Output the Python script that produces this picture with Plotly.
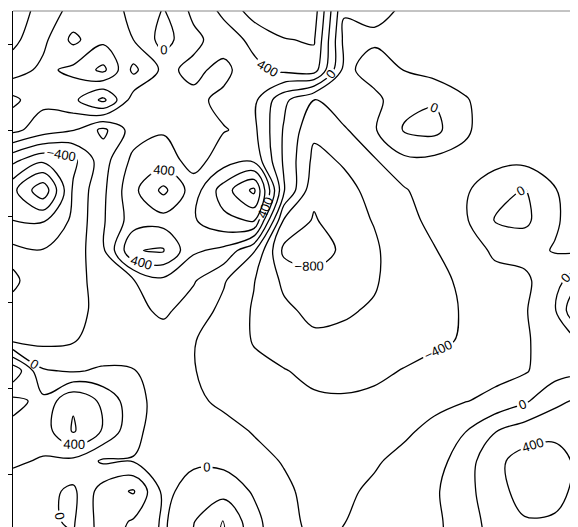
import plotly.graph_objects as go

# grid node positions (km); columns left->right, rows top->bottom
x_km = [0.00, 0.35, 0.70, 1.05, 1.40, 1.75, 2.10, 2.45, 2.80, 3.15,
        3.50, 3.85, 4.20, 4.55, 4.90, 5.25, 5.60, 5.95, 6.30, 6.65]
y_km = [6.40, 6.05, 5.70, 5.35, 5.00, 4.65, 4.30, 3.95, 3.60, 3.25,
        2.90, 2.55, 2.20, 1.85, 1.50, 1.15, 0.80, 0.45, 0.10]

# anomaly values, one list per row (top to bottom)
row_00 = [-150, 100, 250, 300, 150, -10, 250, 450, 700, 750, 700, -180, -150, -220, -300, -300, -300, -300, -300, -300]
row_01 = [-50, 150, 450, 250, 200, -80, 150, 300, 450, 590, 620, -250, -235, -240, -300, -300, -300, -300, -300, -300]
row_02 = [100, 250, 150, -50, 450, 150, 250, 140, 350, 450, 500, -260, -100, -205, -280, -300, -300, -300, -300, -300]
row_03 = [450, 250, 350, 650, 100, 150, 150, 250, 250, -150, -420, -230, -260, -60, -20, -180, -300, -300, -300, -300]
row_04 = [250, 100, 10, -250, 100, 180, 150, 190, 250, -220, -560, -430, -220, 20, 60, -170, -300, -300, -300, -300]
row_05 = [-350, -550, -450, -80, 250, 300, 120, 300, 350, -230, -650, -580, -420, -240, -250, -250, -260, -250, -280, -300]
row_06 = [-750, -1150, -370, -40, 350, 650, 300, 700, 1050, -180, -750, -650, -550, -420, -280, -230, -80, 10, -190, -300]
row_07 = [-600, -620, -360, -20, 300, 320, 380, 550, 620, -620, -820, -680, -590, -460, -350, -230, 5, 50, -180, -290]
row_08 = [-350, -390, -320, -30, 590, 620, 230, 150, -180, -850, -900, -760, -630, -480, -410, -300, -170, -150, -210, -230]
row_09 = [-430, -300, -300, -80, -10, 150, 20, -180, -390, -640, -720, -680, -620, -500, -430, -380, -260, -230, -100, 250]
row_10 = [-350, -290, -280, -120, -60, 40, -100, -250, -420, -560, -650, -620, -580, -490, -440, -390, -300, -220, -20, 550]
row_11 = [-230, -250, -210, -150, -100, -100, -190, -300, -410, -500, -560, -560, -520, -480, -440, -380, -300, -220, -120, 50]
row_12 = [550, 20, -20, 30, 10, -120, -190, -300, -360, -390, -450, -460, -440, -390, -330, -300, -260, -220, -80, -30]
row_13 = [150, 250, 580, 350, 80, -100, -170, -230, -300, -350, -370, -380, -360, -320, -250, -210, -150, -30, 150, 250]
row_14 = [250, 300, 620, 380, 50, -100, -120, -150, -210, -300, -320, -300, -280, -230, -150, -10, 190, 300, 350, 300]
row_15 = [230, 180, 150, -30, -10, -80, -30, -50, -150, -210, -290, -250, -220, -150, -80, 100, 350, 480, 480, 330]
row_16 = [100, 60, -40, 300, 420, -50, 80, 120, -20, -170, -250, -230, -170, -110, -30, 140, 300, 500, 480, 300]
row_17 = [50, 30, -20, 300, 180, -30, 190, 420, 60, -150, -240, -205, -140, -100, -40, 100, 280, 380, 370, 300]
row_18 = [50, 10, 50, 250, 150, -50, 250, 450, 50, -100, -220, -150, -100, -80, -40, 80, 250, 330, 330, 280]

tick_vals = [1, 2, 3, 4, 5, 6]

rows = [row_00, row_01, row_02, row_03, row_04, row_05, row_06, row_07, row_08, row_09,
        row_10, row_11, row_12, row_13, row_14, row_15, row_16, row_17, row_18]

z = rows[::-1]
y = y_km[::-1]
line_style = dict(width=1.3, smoothing=1.0)
black = [[0, 'black'], [1, 'black']]

fig = go.Figure()
# unlabelled levels: +-200, +-600, +-1000
fig.add_trace(go.Contour(
    x=x_km, y=y, z=z,
    contours=dict(start=-1000, end=1000, size=400, coloring='lines', showlabels=False),
    colorscale=black, line=line_style, showscale=False, hoverinfo='skip',
))
# labelled levels: 0, +-400, +-800, +-1200
fig.add_trace(go.Contour(
    x=x_km, y=y, z=z,
    contours=dict(start=-1200, end=1200, size=400, coloring='lines', showlabels=True,
                  labelfont=dict(family='Liberation Sans', size=13, color='black')),
    colorscale=black, line=line_style, showscale=False, hoverinfo='skip',
))

fig.update_layout(
    width=570, height=519,
    margin=dict(l=5, r=0, t=3, b=0, autoexpand=False),
    paper_bgcolor='white', plot_bgcolor='white',
    showlegend=False,
    xaxis=dict(range=[0, 6.57], showgrid=False, zeroline=False, showline=False,
               showticklabels=False, ticks='', automargin=False),
    yaxis=dict(range=[0.384, 6.384], showgrid=False, zeroline=False,
               showline=True, linecolor='black', linewidth=1,
               tickvals=tick_vals, ticks='outside', ticklen=6, tickwidth=1,
               tickcolor='black', showticklabels=False, automargin=False),
    shapes=[dict(type='line', xref='paper', yref='paper', x0=0, x1=1, y0=1, y1=1,
                 line=dict(color='#888888', width=1))],
)

fig.write_html("out.html")
